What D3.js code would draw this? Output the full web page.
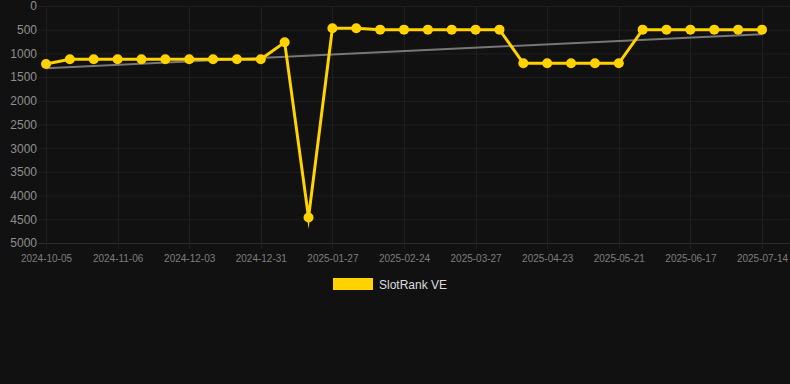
<!DOCTYPE html>
<html>
<head>
<meta charset="utf-8">
<script src="https://cdn.jsdelivr.net/npm/d3@7"></script>
<style>
  html, body { margin: 0; padding: 0; background: #111111; }
  svg { display: block; font-family: "Liberation Sans", Arial, sans-serif; }
</style>
</head>
<body>
<div id="chart"></div>
<script>
// categories (one per point)
var dates = ['2024-10-05', '2024-10-16', '2024-10-26', '2024-11-06', '2024-11-15', '2024-11-24',
  '2024-12-03', '2024-12-12', '2024-12-22', '2024-12-31', '2025-01-09', '2025-01-18',
  '2025-01-27', '2025-02-05', '2025-02-15', '2025-02-24', '2025-03-07', '2025-03-17',
  '2025-03-27', '2025-04-05', '2025-04-14', '2025-04-23', '2025-05-02', '2025-05-12',
  '2025-05-21', '2025-05-30', '2025-06-08', '2025-06-17', '2025-06-26', '2025-07-05',
  '2025-07-14'];

// rank values
var rankValues = [1222, 1124, 1124, 1124, 1124, 1124, 1124, 1124, 1124, 1124, 766, 4461,
  470, 470, 499, 499, 499, 499, 499, 499, 1208, 1208, 1208, 1208, 1208,
  499, 499, 499, 499, 499, 499];

var yTicks = [0, 500, 1000, 1500, 2000, 2500, 3000, 3500, 4000, 4500, 5000];
var seriesName = 'SlotRank VE';

var w = 790, h = 384;
var margin = { top: 6, right: 28, bottom: 141, left: 46 };

var svg = d3.select('#chart').append('svg')
  .attr('width', w)
  .attr('height', h);

var x = d3.scalePoint()
  .domain(dates)
  .range([margin.left, w - margin.right]);

var y = d3.scaleLinear()
  .domain([0, 5000])
  .range([margin.top, h - margin.bottom]);

var labelDates = dates.filter(function (d, i) { return i % 3 === 0; });

// grid
svg.append('g')
  .selectAll('line')
  .data(yTicks)
  .enter().append('line')
  .attr('x1', margin.left - 8)
  .attr('x2', w)
  .attr('y1', function (d) { return y(d) + 0.5; })
  .attr('y2', function (d) { return y(d) + 0.5; })
  .attr('stroke', function (d) { return d === 5000 ? '#2c2c2c' : '#1f1f1f'; })
  .attr('stroke-width', 1);

svg.append('g')
  .selectAll('line')
  .data(labelDates)
  .enter().append('line')
  .attr('x1', function (d) { return Math.round(x(d)) + 0.5; })
  .attr('x2', function (d) { return Math.round(x(d)) + 0.5; })
  .attr('y1', margin.top)
  .attr('y2', h - margin.bottom + 6)
  .attr('stroke', '#1f1f1f')
  .attr('stroke-width', 1);

// axes
var gy = svg.append('g')
  .attr('transform', 'translate(' + (margin.left - 9) + ',0)')
  .call(d3.axisLeft(y).tickValues(yTicks).tickFormat(d3.format('d')).tickSize(0).tickPadding(0));

var gx = svg.append('g')
  .attr('transform', 'translate(0,' + (h - margin.bottom + 8) + ')')
  .call(d3.axisBottom(x).tickValues(labelDates).tickSize(0).tickPadding(4));

svg.selectAll('path.domain').remove();
gy.selectAll('text').attr('fill', '#8f8f8f').style('font-size', '12px');
gx.selectAll('text').attr('fill', '#7e7e7e').style('font-size', '10px');

// trend line (least squares over the series)
var n = rankValues.length;
var idx = d3.range(n);
var mx = d3.mean(idx), my = d3.mean(rankValues);
var sxy = d3.sum(idx, function (i) { return (i - mx) * (rankValues[i] - my); });
var sxx = d3.sum(idx, function (i) { return (i - mx) * (i - mx); });
var slope = sxy / sxx;
var icpt = my - slope * mx;

svg.append('line')
  .attr('x1', x(dates[0]))
  .attr('y1', y(icpt))
  .attr('x2', x(dates[n - 1]))
  .attr('y2', y(icpt + slope * (n - 1)))
  .attr('stroke', '#777777')
  .attr('stroke-width', 2);

// series
var line = d3.line()
  .x(function (d, i) { return x(dates[i]); })
  .y(function (d) { return y(d); });

svg.append('path')
  .datum(rankValues)
  .attr('d', line)
  .attr('fill', 'none')
  .attr('stroke', '#FFD200')
  .attr('stroke-width', 3)
  .attr('stroke-linejoin', 'miter')
  .attr('stroke-miterlimit', 10);

svg.append('g')
  .selectAll('circle')
  .data(rankValues)
  .enter().append('circle')
  .attr('cx', function (d, i) { return x(dates[i]); })
  .attr('cy', function (d) { return y(d); })
  .attr('r', 5)
  .attr('fill', '#FFD200');

// legend
var legend = svg.append('g');
legend.append('rect')
  .attr('x', 333)
  .attr('y', 278)
  .attr('width', 40)
  .attr('height', 12)
  .attr('fill', '#FFD200');
legend.append('text')
  .attr('x', 379)
  .attr('y', 289)
  .attr('fill', '#dddddd')
  .style('font-size', '12px')
  .text(seriesName);
</script>
</body>
</html>
